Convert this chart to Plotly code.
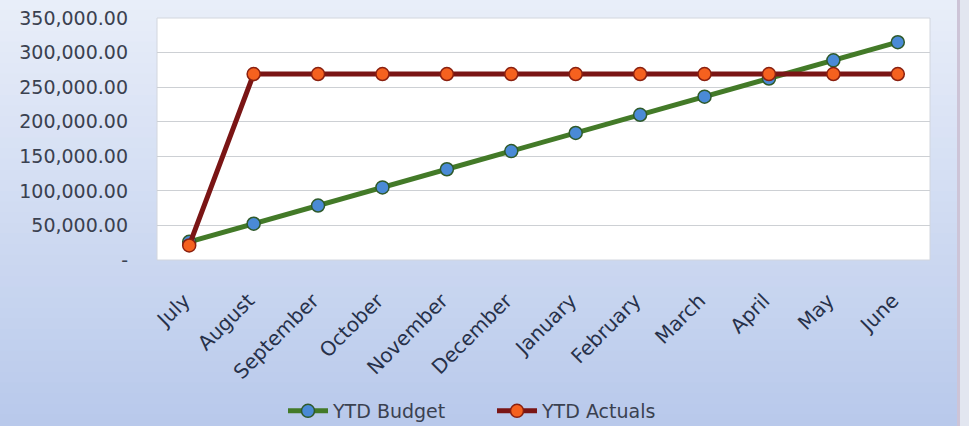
import plotly.graph_objects as go

months = ["July", "August", "September", "October", "November", "December",
          "January", "February", "March", "April", "May", "June"]
ytd_budget = [26250, 52500, 78750, 105000, 131250, 157500,
              183750, 210000, 236250, 262500, 288750, 315000]
ytd_actuals = [21000, 269000, 269000, 269000, 269000, 269000,
               269000, 269000, 269000, 269000, 269000, 269000]
y_tick_vals = [0, 50000, 100000, 150000, 200000, 250000, 300000, 350000]
y_tick_text = ["-", "50,000.00", "100,000.00", "150,000.00", "200,000.00",
               "250,000.00", "300,000.00", "350,000.00"]

W, H = 969, 426
L, R, T, B = 157, 39, 18, 166
pw, ph = W - L - R, H - T - B

def px_x(p):
    return (p - L) / pw

def px_y(p):
    return (H - B - p) / ph

def lerp(c1, c2, t):
    return "rgb(%d,%d,%d)" % tuple(round(a + (b - a) * t) for a, b in zip(c1, c2))

top_c = (233, 238, 249)
bot_c = (184, 201, 235)
shapes = []
n = 40
for i in range(n):
    y0p = H * i / n
    y1p = H * (i + 1) / n + 1
    shapes.append(dict(type="rect", xref="paper", yref="paper",
                       x0=px_x(-2), x1=px_x(W + 2), y0=px_y(y1p), y1=px_y(y0p - 1),
                       fillcolor=lerp(top_c, bot_c, (i + 0.5) / n),
                       line=dict(width=0), layer="below"))
# right frame edge
shapes.append(dict(type="rect", xref="paper", yref="paper",
                   x0=px_x(957), x1=px_x(960), y0=px_y(H + 2), y1=px_y(-2),
                   fillcolor="rgb(205,196,215)", line=dict(width=0), layer="below"))
shapes.append(dict(type="rect", xref="paper", yref="paper",
                   x0=px_x(960), x1=px_x(W + 2), y0=px_y(H + 2), y1=px_y(-2),
                   fillcolor="rgb(226,230,240)", line=dict(width=0), layer="below"))
# white plot area
shapes.append(dict(type="rect", xref="paper", yref="paper",
                   x0=0, x1=1, y0=0, y1=1, fillcolor="white",
                   line=dict(width=1, color="rgb(210,214,222)"), layer="below"))

fig = go.Figure()
fig.add_trace(go.Scatter(
    x=months, y=ytd_budget, name="YTD Budget", mode="lines+markers",
    line=dict(color="#437a28", width=5),
    marker=dict(size=13, color="#4a8ad6", line=dict(color="#2f5a2a", width=1.5)),
))
fig.add_trace(go.Scatter(
    x=months, y=ytd_actuals, name="YTD Actuals", mode="lines+markers",
    line=dict(color="#7a1515", width=5),
    marker=dict(size=13, color="#f5611f", line=dict(color="#8a2010", width=1.5)),
))

fig.update_layout(
    width=W, height=H,
    margin=dict(l=L, r=R, t=T, b=B, pad=0, autoexpand=False),
    paper_bgcolor="rgb(200,213,240)",
    plot_bgcolor="white",
    shapes=shapes,
    showlegend=True,
    legend=dict(orientation="h", x=px_x(283), xanchor="left",
                y=px_y(411), yanchor="middle",
                entrywidth=154, entrywidthmode="pixels",
                font=dict(family="DejaVu Sans", size=19, color="#3a4150"),
                bgcolor="rgba(0,0,0,0)", itemwidth=40, tracegroupgap=0),
    font=dict(family="DejaVu Sans", color="#3a4150"),
)
fig.update_xaxes(
    type="category", showgrid=False, showline=False, ticks="",
    automargin=False,
    tickangle=-45, tickfont=dict(family="DejaVu Sans", size=20, color="#27314a"),
    ticklabelstandoff=24, ticklabelshift=-5,
    range=[-0.5, 11.5],
)
fig.update_yaxes(
    range=[0, 350000], tickvals=y_tick_vals, ticktext=y_tick_text,
    automargin=False,
    showgrid=True, gridcolor="rgb(205,208,212)", gridwidth=1,
    zeroline=False, showline=False, ticks="", ticklabelstandoff=28,
    tickfont=dict(family="DejaVu Sans", size=19, color="#3a4150"),
)

fig.write_html("out.html", config={"displayModeBar": False},
               post_script="document.body.style.margin='0px';document.body.style.overflow='hidden';")
